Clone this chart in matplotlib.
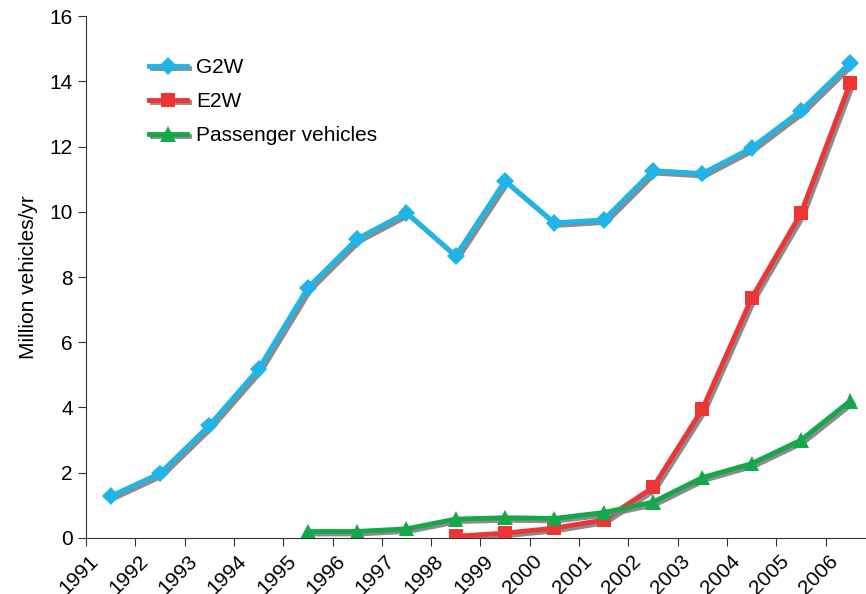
import matplotlib
matplotlib.use("Agg")
import matplotlib.pyplot as plt
import matplotlib.patheffects as pe
import matplotlib.transforms as mtransforms
import numpy as np

plt.rcParams['font.family'] = ['Liberation Sans', 'DejaVu Sans']

years = [str(y) for y in range(1991, 2007)]
g2w = [1.28, 1.98, 3.45, 5.18, 7.67, 9.17, 9.97, 8.65, 10.95, 9.66, 9.75, 11.26, 11.17, 11.96, 13.1, 14.57]
e2w_years = [str(y) for y in range(1998, 2007)]
e2w = [0.05, 0.15, 0.3, 0.55, 1.55, 3.95, 7.35, 9.95, 13.95]
pv_years = [str(y) for y in range(1995, 2007)]
pv = [0.2, 0.2, 0.28, 0.58, 0.62, 0.6, 0.78, 1.1, 1.85, 2.28, 3.0, 4.2]

def xpos(labels):
    return [years.index(l) + 0.5 for l in labels]

fig = plt.figure(figsize=(8.66, 5.94), dpi=100)
ax = fig.add_axes([0.0993, 0.0943, 0.9007, 0.8787])

shadow = [pe.SimpleLineShadow(offset=(1.8, -1.8), shadow_color='#808080', alpha=0.9), pe.Normal()]

ax.plot(xpos(years), g2w, color='#1FB5E8', lw=3.5, marker='D', ms=9, mew=0,
        label='G2W', path_effects=shadow, zorder=3)
ax.plot(xpos(e2w_years), e2w, color='#EE3535', lw=3.5, marker='s', ms=10, mew=0,
        label='E2W', path_effects=shadow, zorder=4)
ax.plot(xpos(pv_years), pv, color='#14A84B', lw=3.5, marker='^', ms=11, mew=0,
        label='Passenger vehicles', path_effects=shadow, zorder=5)

ax.set_xlim(0, 15.82)
ax.set_ylim(0, 16)
ax.set_xticks(np.arange(len(years)))
ax.set_xticklabels(years, rotation=45, ha='right', rotation_mode='anchor', fontsize=15)
ax.set_yticks(np.arange(0, 17, 2))
ax.tick_params(axis='y', labelsize=15, length=6, direction='out', color='#333333')
ax.tick_params(axis='x', length=6, direction='out', color='#333333', pad=3)

# labels in the original sit a little to the right of the ticks
shift = mtransforms.ScaledTranslation(3 / 100, -1 / 100, fig.dpi_scale_trans)
for tick in ax.xaxis.get_major_ticks():
    tick.label1.set_transform(tick.label1.get_transform() + shift)

for s in ['top', 'right']:
    ax.spines[s].set_visible(False)
for s in ['left', 'bottom']:
    ax.spines[s].set_color('#333333')
ax.set_ylabel('Million vehicles/yr', fontsize=15, labelpad=8)

ax.legend(loc='upper left', bbox_to_anchor=(0.057, 0.955), frameon=False, fontsize=15,
          handlelength=1.8, handletextpad=0.45, labelspacing=0.72)

fig.savefig('out.png', dpi=100)
